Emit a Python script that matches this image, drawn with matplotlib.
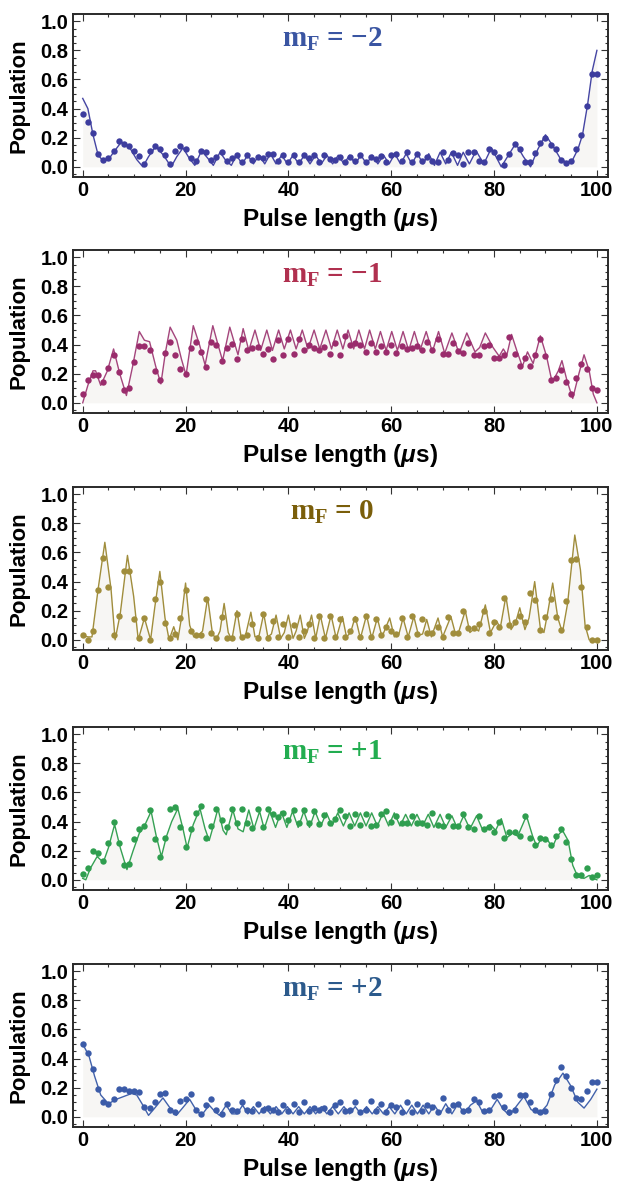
import numpy as np
import matplotlib.pyplot as plt
from matplotlib.ticker import MultipleLocator

plt.rcParams['font.family'] = ['Liberation Sans', 'DejaVu Sans']
plt.rcParams['font.weight'] = 'bold'
plt.rcParams['axes.labelweight'] = 'bold'
plt.rcParams['mathtext.fontset'] = 'custom'
plt.rcParams['mathtext.bf'] = 'Liberation Serif:bold'
plt.rcParams['mathtext.rm'] = 'Liberation Serif:bold'
plt.rcParams['mathtext.it'] = 'Liberation Sans:italic:bold'

# measurement grid (us)
pulse = np.arange(0, 101)

# measured populations, one value per microsecond
pop_m2 = [0.36, 0.31, 0.23, 0.09, 0.05, 0.06, 0.11, 0.175, 0.16, 0.14,
          0.11, 0.075, 0.02, 0.11, 0.14, 0.12, 0.08, 0.02, 0.11, 0.14,
          0.12, 0.06, 0.04, 0.11, 0.10, 0.045, 0.07, 0.10, 0.04, 0.06,
          0.08, 0.03, 0.08, 0.05, 0.07, 0.06, 0.09, 0.09, 0.04, 0.08,
          0.035, 0.08, 0.03, 0.08, 0.06, 0.08, 0.03, 0.08, 0.055, 0.05,
          0.07, 0.035, 0.065, 0.04, 0.08, 0.035, 0.07, 0.055, 0.075, 0.035,
          0.08, 0.09, 0.04, 0.10, 0.03, 0.085, 0.04, 0.07, 0.04, 0.03,
          0.10, 0.05, 0.095, 0.08, 0.02, 0.10, 0.10, 0.04, 0.03, 0.12,
          0.10, 0.065, 0.01, 0.09, 0.16, 0.12, 0.035, 0.03, 0.095, 0.165,
          0.195, 0.15, 0.12, 0.05, 0.025, 0.04, 0.12, 0.22, 0.42, 0.64, 0.64]
pop_m1 = [0.06, 0.16, 0.19, 0.19, 0.14, 0.24, 0.33, 0.21, 0.09, 0.10,
          0.28, 0.39, 0.39, 0.36, 0.22, 0.16, 0.34, 0.42, 0.33, 0.23,
          0.20, 0.375, 0.42, 0.35, 0.245, 0.415, 0.40, 0.29, 0.375, 0.405,
          0.30, 0.44, 0.36, 0.38, 0.385, 0.335, 0.37, 0.30, 0.43, 0.33,
          0.44, 0.335, 0.44, 0.36, 0.40, 0.375, 0.365, 0.385, 0.335, 0.41,
          0.33, 0.46, 0.40, 0.41, 0.40, 0.35, 0.41, 0.35, 0.39, 0.35,
          0.40, 0.345, 0.39, 0.37, 0.375, 0.39, 0.36, 0.42, 0.36, 0.44,
          0.335, 0.335, 0.41, 0.355, 0.345, 0.41, 0.33, 0.33, 0.39, 0.40,
          0.31, 0.31, 0.33, 0.45, 0.335, 0.255, 0.305, 0.25, 0.33, 0.44,
          0.32, 0.155, 0.17, 0.225, 0.14, 0.06, 0.17, 0.265, 0.23, 0.10, 0.09]
pop_0 = [0.035, 0.0, 0.06, 0.34, 0.56, 0.36, 0.03, 0.165, 0.47, 0.47,
         0.145, 0.01, 0.15, 0.0, 0.28, 0.40, 0.115, 0.01, 0.04, 0.15,
         0.34, 0.06, 0.03, 0.03, 0.28, 0.045, 0.01, 0.16, 0.01, 0.01,
         0.18, 0.02, 0.03, 0.11, 0.01, 0.18, 0.015, 0.13, 0.02, 0.11,
         0.02, 0.10, 0.02, 0.06, 0.11, 0.015, 0.165, 0.01, 0.165, 0.02,
         0.14, 0.02, 0.06, 0.14, 0.02, 0.165, 0.02, 0.14, 0.03, 0.09,
         0.06, 0.04, 0.15, 0.02, 0.165, 0.04, 0.14, 0.045, 0.045, 0.09,
         0.02, 0.16, 0.05, 0.045, 0.20, 0.08, 0.08, 0.11, 0.20, 0.05,
         0.12, 0.09, 0.285, 0.10, 0.12, 0.165, 0.12, 0.325, 0.275, 0.07,
         0.155, 0.28, 0.155, 0.07, 0.265, 0.545, 0.555, 0.36, 0.085, 0.0, 0.0]
pop_p1 = [0.04, 0.08, 0.195, 0.185, 0.13, 0.25, 0.40, 0.255, 0.10, 0.11,
          0.28, 0.35, 0.37, 0.48, 0.28, 0.16, 0.29, 0.49, 0.50, 0.365,
          0.225, 0.35, 0.46, 0.505, 0.29, 0.37, 0.49, 0.41, 0.365, 0.49,
          0.39, 0.49, 0.39, 0.355, 0.49, 0.365, 0.49, 0.45, 0.435, 0.46,
          0.41, 0.48, 0.39, 0.48, 0.39, 0.475, 0.385, 0.445, 0.39, 0.415,
          0.48, 0.44, 0.37, 0.45, 0.38, 0.45, 0.37, 0.38, 0.45, 0.47,
          0.40, 0.44, 0.39, 0.39, 0.44, 0.39, 0.39, 0.38, 0.46, 0.38,
          0.37, 0.44, 0.37, 0.37, 0.45, 0.36, 0.35, 0.44, 0.35, 0.36,
          0.33, 0.40, 0.29, 0.33, 0.33, 0.30, 0.44, 0.29, 0.24, 0.29,
          0.28, 0.24, 0.30, 0.35, 0.26, 0.14, 0.03, 0.03, 0.08, 0.02, 0.03]
pop_p2 = [0.50, 0.44, 0.33, 0.19, 0.10, 0.09, 0.12, 0.19, 0.19, 0.18,
          0.18, 0.17, 0.07, 0.06, 0.10, 0.16, 0.165, 0.05, 0.03, 0.11,
          0.12, 0.16, 0.05, 0.02, 0.08, 0.12, 0.05, 0.02, 0.09, 0.05,
          0.04, 0.10, 0.05, 0.04, 0.09, 0.05, 0.06, 0.05, 0.03, 0.08,
          0.04, 0.09, 0.03, 0.10, 0.04, 0.06, 0.05, 0.06, 0.03, 0.08,
          0.10, 0.04, 0.05, 0.10, 0.03, 0.05, 0.11, 0.04, 0.09, 0.03,
          0.08, 0.07, 0.03, 0.10, 0.03, 0.09, 0.04, 0.08, 0.07, 0.03,
          0.13, 0.05, 0.08, 0.09, 0.04, 0.05, 0.12, 0.10, 0.04, 0.05,
          0.14, 0.15, 0.07, 0.03, 0.05, 0.15, 0.15, 0.10, 0.05, 0.03,
          0.04, 0.16, 0.25, 0.34, 0.28, 0.20, 0.13, 0.12, 0.18, 0.24, 0.24]

fit_x_m2 = [0, 1, 2, 3, 4, 5, 6, 7.5, 9, 10.5, 11.7, 12.8, 14.2, 15.7, 17.2,
            18.3, 19.5, 20.7, 21.8, 23.1, 24.3, 25.4, 26.7, 27.7, 28.9, 29.9,
            31.0, 32.1, 33.2, 34.3, 35.4, 36.5, 37.6, 38.7, 39.8, 40.9, 42.0,
            43.1, 44.2, 45.3, 46.4, 47.5, 48.6, 49.7, 50.8, 51.9, 53.0, 54.1,
            55.2, 56.3, 57.4, 58.5, 59.6, 60.7, 61.8, 62.9, 64.0, 65.1, 66.2,
            67.3, 68.4, 69.5, 70.6, 71.7, 72.9, 74.0, 75.2, 76.5, 78.0, 79.5,
            81.4, 82.8, 84.2, 85.7, 87.1, 88.5, 90.0, 91.5, 93.0, 94.2, 95.3,
            96.3, 97.2, 98.2, 99.1, 100]
fit_y_m2 = [0.47, 0.40, 0.22, 0.08, 0.04, 0.05, 0.10, 0.17, 0.14, 0.05, 0.0,
            0.07, 0.14, 0.08, 0.0, 0.07, 0.13, 0.06, 0.01, 0.11, 0.06, 0.01,
            0.10, 0.05, 0.01, 0.08, 0.02, 0.08, 0.02, 0.08, 0.02, 0.09, 0.02,
            0.08, 0.02, 0.08, 0.02, 0.08, 0.02, 0.08, 0.02, 0.08, 0.02, 0.08,
            0.02, 0.08, 0.02, 0.08, 0.02, 0.08, 0.02, 0.08, 0.02, 0.09, 0.02,
            0.09, 0.02, 0.09, 0.02, 0.09, 0.01, 0.10, 0.02, 0.10, 0.01, 0.10,
            0.02, 0.11, 0.02, 0.13, 0.0, 0.08, 0.16, 0.07, 0.0, 0.12, 0.22,
            0.14, 0.05, 0.03, 0.05, 0.12, 0.22, 0.43, 0.66, 0.80]

fit_x_m1 = [0, 1, 2, 2.5, 3.5, 4.8, 6.0, 7.2, 8.5, 9.7, 11.0, 12.0, 13.0, 14.2,
            15.2, 16.1, 17.0, 18.3, 19.2, 20.1, 21.5, 22.7, 23.8, 25.3, 26.3,
            27.2, 28.6, 29.6, 30.2, 31.2, 32.3, 33.5, 34.6, 35.8, 36.9, 38.1,
            39.2, 40.4, 41.5, 42.7, 43.8, 45.0, 46.1, 47.3, 48.4, 49.5, 50.6,
            51.6, 52.7, 53.7, 54.8, 55.8, 56.9, 57.9, 59.0, 60.1, 61.2, 62.3,
            63.4, 64.5, 65.6, 66.8, 68.0, 69.2, 70.4, 71.8, 73.2, 74.7, 76.3,
            77.2, 78.3, 79.8, 81.0, 81.8, 82.5, 83.4, 84.5, 85.5, 86.5, 87.6,
            89.0, 90.2, 91.3, 92.5, 93.2, 94.2, 95.3, 96.5, 97.5, 98.5, 99.3, 100]
fit_y_m1 = [0.0, 0.12, 0.22, 0.22, 0.12, 0.22, 0.37, 0.20, 0.05, 0.25, 0.49,
            0.43, 0.42, 0.25, 0.13, 0.35, 0.52, 0.43, 0.30, 0.19, 0.53, 0.40,
            0.26, 0.53, 0.40, 0.29, 0.52, 0.40, 0.33, 0.51, 0.36, 0.50, 0.36,
            0.50, 0.36, 0.50, 0.37, 0.50, 0.37, 0.50, 0.37, 0.50, 0.37, 0.50,
            0.37, 0.50, 0.37, 0.50, 0.37, 0.50, 0.37, 0.50, 0.37, 0.49, 0.36,
            0.49, 0.36, 0.49, 0.36, 0.49, 0.36, 0.49, 0.35, 0.49, 0.34, 0.48,
            0.34, 0.48, 0.35, 0.38, 0.48, 0.38, 0.32, 0.37, 0.33, 0.47, 0.35,
            0.25, 0.35, 0.27, 0.46, 0.32, 0.14, 0.22, 0.29, 0.15, 0.03, 0.20,
            0.33, 0.22, 0.06, 0.0]

fit_x_0 = [0, 1.0, 1.8, 3.0, 4.3, 5.5, 6.3, 7.3, 8.7, 9.9, 10.8, 12.0, 13.2,
           14.0, 15.0, 16.0, 16.8, 17.7, 18.5, 19.2, 20.0, 20.8, 21.6, 22.5,
           23.3, 24.3, 25.2, 25.9, 26.7, 27.5, 28.3, 29.0, 30.0, 30.8, 31.6,
           32.7, 33.5, 34.3, 35.2, 36.0, 36.7, 37.6, 38.5, 39.2, 40.0, 40.9,
           41.5, 42.3, 43.1, 43.7, 44.5, 45.3, 46.2, 47.2, 48.3, 49.3, 50.5,
           51.3, 52.1, 53.0, 54.0, 55.2, 56.2, 57.3, 58.2, 59.7, 60.6, 61.5,
           62.3, 63.3, 64.4, 65.3, 66.1, 66.9, 67.8, 69.1, 70.0, 71.6, 72.5,
           73.0, 74.4, 75.3, 76.3, 77.0, 78.3, 79.3, 80.5, 81.2, 82.3, 83.3,
           84.2, 85.0, 86.0, 86.8, 87.9, 89.0, 89.7, 90.5, 91.4, 92.4, 93.3,
           94.3, 95.7, 96.8, 97.7, 98.5, 100]
fit_y_0 = [0.03, 0.02, 0.02, 0.35, 0.67, 0.35, 0.0, 0.18, 0.58, 0.30, 0.0,
           0.15, 0.0, 0.22, 0.47, 0.15, 0.0, 0.09, 0.0, 0.15, 0.39, 0.10, 0.02,
           0.03, 0.06, 0.29, 0.05, 0.0, 0.06, 0.25, 0.05, 0.0, 0.20, 0.02,
           0.02, 0.19, 0.02, 0.03, 0.18, 0.02, 0.04, 0.17, 0.01, 0.05, 0.17,
           0.01, 0.06, 0.17, 0.01, 0.06, 0.17, 0.01, 0.17, 0.01, 0.17, 0.01,
           0.16, 0.02, 0.05, 0.16, 0.01, 0.17, 0.01, 0.15, 0.02, 0.15, 0.02,
           0.04, 0.15, 0.02, 0.16, 0.03, 0.04, 0.14, 0.02, 0.15, 0.02, 0.16,
           0.04, 0.04, 0.20, 0.05, 0.08, 0.06, 0.24, 0.05, 0.13, 0.08, 0.30,
           0.07, 0.12, 0.22, 0.07, 0.15, 0.40, 0.08, 0.05, 0.20, 0.39, 0.15,
           0.05, 0.25, 0.72, 0.48, 0.10, 0.0, 0.0]

fit_x_p1 = [0, 0.6, 1.5, 2.8, 4.0, 5.0, 6.2, 7.3, 8.6, 9.8, 11.0, 12.0, 13.3,
            14.3, 15.3, 16.3, 17.3, 18.5, 19.5, 20.3, 21.5, 22.8, 23.8, 24.6,
            25.4, 26.3, 27.3, 27.9, 29.2, 30.2, 31.2, 32.3, 33.3, 34.4, 35.3,
            36.4, 37.5, 38.6, 39.7, 40.8, 41.9, 43.0, 44.1, 45.2, 46.3, 47.4,
            48.5, 49.6, 50.7, 51.8, 52.9, 54.0, 55.1, 56.2, 57.3, 58.4, 59.5,
            60.6, 61.7, 62.8, 63.9, 65.0, 66.1, 67.2, 68.3, 69.5, 70.6, 71.8,
            72.9, 74.1, 75.3, 76.6, 77.8, 79.3, 80.3, 81.4, 82.5, 83.6, 84.6,
            86.3, 87.5, 88.3, 89.3, 90.5, 91.3, 92.3, 93.3, 94.4, 95.3, 96.3,
            97.5, 98.5, 99.3, 100]
fit_y_p1 = [0.01, 0.0, 0.08, 0.16, 0.12, 0.22, 0.38, 0.22, 0.07, 0.20, 0.32,
            0.37, 0.47, 0.30, 0.16, 0.30, 0.40, 0.49, 0.35, 0.22, 0.38, 0.49,
            0.35, 0.27, 0.37, 0.49, 0.34, 0.31, 0.48, 0.35, 0.33, 0.48, 0.35,
            0.47, 0.35, 0.47, 0.36, 0.47, 0.36, 0.47, 0.36, 0.47, 0.36, 0.47,
            0.37, 0.46, 0.37, 0.46, 0.37, 0.46, 0.37, 0.46, 0.37, 0.46, 0.37,
            0.46, 0.37, 0.46, 0.37, 0.45, 0.37, 0.45, 0.37, 0.45, 0.36, 0.45,
            0.36, 0.44, 0.35, 0.44, 0.35, 0.44, 0.34, 0.38, 0.34, 0.42, 0.29,
            0.32, 0.30, 0.44, 0.30, 0.23, 0.29, 0.27, 0.22, 0.30, 0.34, 0.27,
            0.10, 0.02, 0.01, 0.03, 0.01, 0.0]

fit_x_p2 = [0, 1.2, 2.3, 3.5, 5.0, 6.5, 8.0, 9.5, 10.5, 11.7, 12.8, 14.0, 15.6,
            16.8, 18.2, 19.4, 20.8, 22.0, 23.1, 24.6, 25.6, 26.6, 27.9, 29.0,
            30.0, 31.1, 32.1, 33.2, 34.3, 35.4, 36.5, 37.6, 38.7, 39.8, 40.9,
            42.0, 43.1, 44.2, 45.3, 46.4, 47.5, 48.6, 49.7, 50.8, 51.9, 53.0,
            54.1, 55.2, 56.3, 57.4, 58.5, 59.6, 60.7, 61.8, 62.9, 64.0, 65.1,
            66.2, 67.3, 68.4, 69.5, 70.6, 71.8, 73.0, 74.2, 75.4, 76.6, 77.8,
            79.0, 80.6, 81.8, 83.0, 84.5, 85.8, 87.2, 88.8, 90.3, 91.8, 93.4,
            94.8, 96.3, 97.5, 98.8, 100]
fit_y_p2 = [0.50, 0.42, 0.28, 0.15, 0.09, 0.12, 0.14, 0.16, 0.15, 0.08, 0.01,
            0.06, 0.13, 0.07, 0.01, 0.06, 0.12, 0.05, 0.01, 0.08, 0.04, 0.01,
            0.08, 0.02, 0.02, 0.08, 0.02, 0.07, 0.02, 0.07, 0.02, 0.07, 0.02,
            0.07, 0.02, 0.07, 0.02, 0.07, 0.02, 0.07, 0.02, 0.07, 0.02, 0.07,
            0.02, 0.07, 0.02, 0.07, 0.02, 0.07, 0.02, 0.07, 0.02, 0.08, 0.02,
            0.08, 0.02, 0.08, 0.02, 0.08, 0.02, 0.09, 0.02, 0.09, 0.02, 0.08,
            0.11, 0.03, 0.03, 0.12, 0.05, 0.01, 0.08, 0.14, 0.05, 0.02, 0.08,
            0.22, 0.30, 0.22, 0.10, 0.06, 0.12, 0.19]

titles = [r'$\mathbf{m_F}$ = −2', r'$\mathbf{m_F}$ = −1', r'$\mathbf{m_F}$ = 0',
          r'$\mathbf{m_F}$ = +1', r'$\mathbf{m_F}$ = +2']
point_colors = ['#3d3d9e', '#9a2c6c', '#a08d3c', '#2f9e4f', '#3b5ba8']
line_colors = ['#4545a3', '#a4457c', '#a08d3c', '#36a154', '#4262ab']
title_colors = ['#3a55a2', '#b0304f', '#7a5e0a', '#22ad50', '#2c5a8c']

panels = [(pop_m2, fit_x_m2, fit_y_m2), (pop_m1, fit_x_m1, fit_y_m1),
          (pop_0, fit_x_0, fit_y_0), (pop_p1, fit_x_p1, fit_y_p1),
          (pop_p2, fit_x_p2, fit_y_p2)]

fig = plt.figure(figsize=(6.17, 11.82), dpi=100)
W, H = 617.0, 1182.0
tops = [14, 250, 487, 727, 964]

for i, (pop, fx, fy) in enumerate(panels):
    ax = fig.add_axes([72.7 / W, 1 - (tops[i] + 163) / H, 535 / W, 163 / H])
    ax.fill_between(fx, 0, fy, color='#f7f6f4', lw=0, zorder=0)
    ax.plot(fx, fy, color=line_colors[i], lw=1.0, zorder=2,
            solid_joinstyle='round')
    ax.plot(pulse, pop, 'o', color=point_colors[i], ms=4.6, mew=0, zorder=3)

    ax.set_xlim(-1.95, 102.1)
    ax.set_ylim(-0.07, 1.05)
    ax.xaxis.set_major_locator(MultipleLocator(20))
    ax.xaxis.set_minor_locator(MultipleLocator(5))
    ax.yaxis.set_minor_locator(MultipleLocator(0.05))
    ax.tick_params(which='both', direction='in', top=True, right=True,
                   labelsize=14.5, width=0.8, color='#333333', pad=3)
    ax.tick_params(which='major', length=5)
    ax.tick_params(which='minor', length=2.5)
    ax.set_yticks([0, 0.2, 0.4, 0.6, 0.8, 1.0])
    ax.set_yticklabels(['0.0', '0.2', '0.4', '0.6', '0.8', '1.0'])
    for lab in ax.get_xticklabels() + ax.get_yticklabels():
        lab.set_fontweight('bold')
    for sp in ax.spines.values():
        sp.set_linewidth(1.4)
        sp.set_color('#2a2a2a')

    ax.set_xlabel(r'Pulse length ($\mathit{\mu}$s)', fontsize=17.5,
                  fontweight='bold', labelpad=4)
    ax.set_ylabel('Population', fontsize=16, fontweight='bold')
    ax.yaxis.set_label_coords(-0.08, 0.5)
    ax.text(0.485, 0.845, titles[i], transform=ax.transAxes, ha='center',
            va='center', fontsize=21, fontweight='bold',
            family='Liberation Serif', color=title_colors[i])

fig.savefig('out.png', dpi=100)
